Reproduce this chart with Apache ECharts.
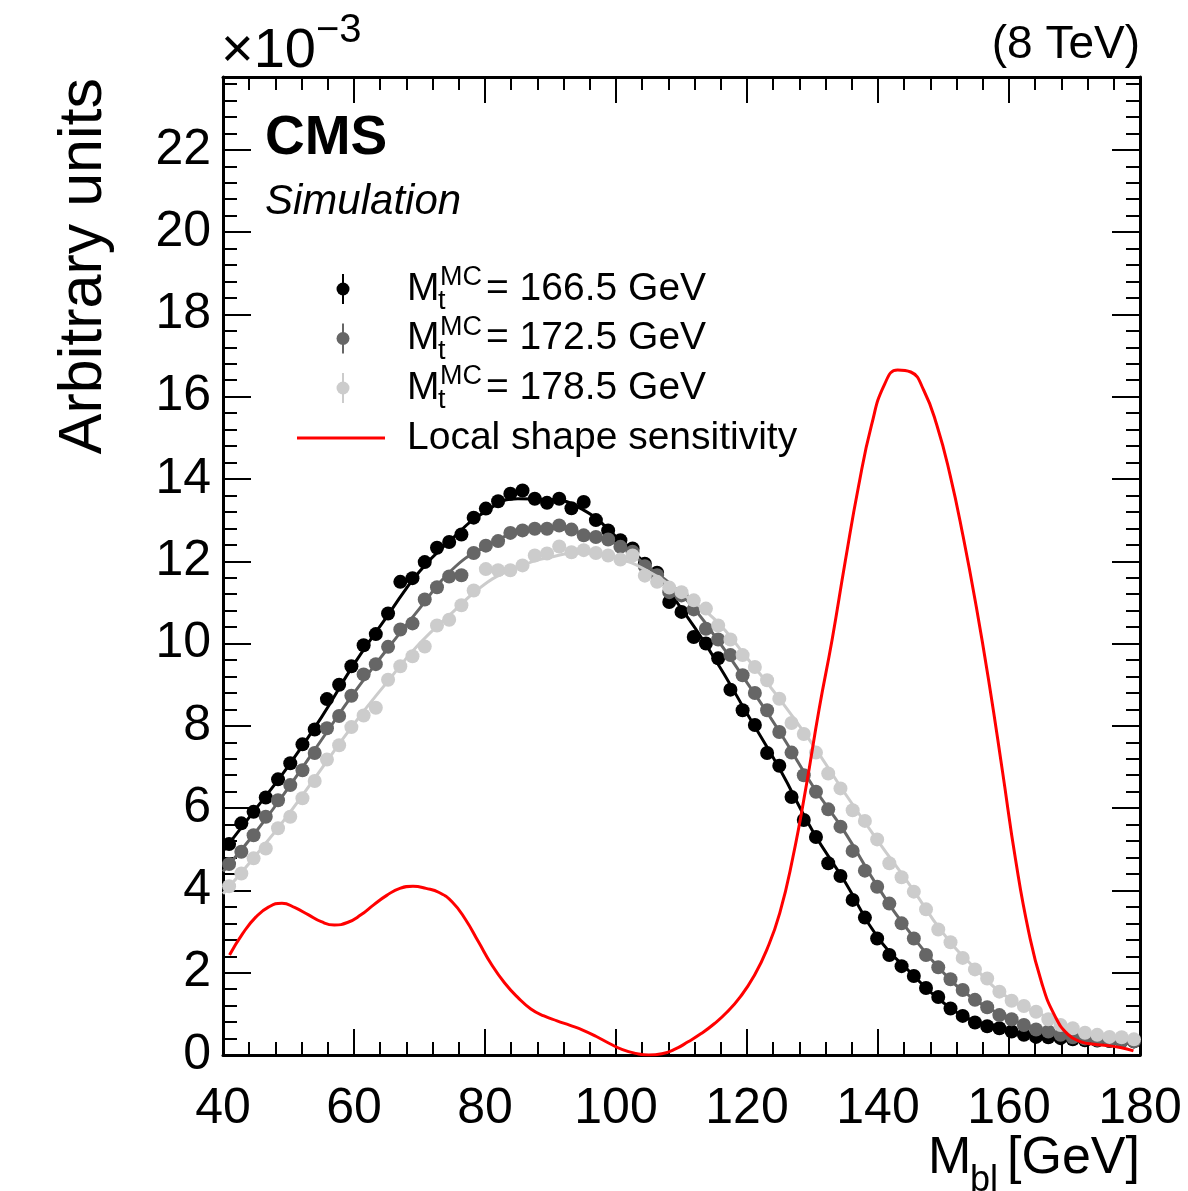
<!DOCTYPE html>
<html>
<head>
<meta charset="utf-8">
<title>Mbl shapes</title>
<style>body{margin:0;background:#fff;}</style>
</head>
<body>
<div id="main" style="width:1188px;height:1191px;"></div>
<script src="https://cdn.jsdelivr.net/npm/echarts@6/dist/echarts.min.js"></script>
<script>
// bin centres, 75 bins from 40 to 180 GeV
var binCenters = [40.93, 42.80, 44.67, 46.53, 48.40, 50.27, 52.13, 54.00, 55.87, 57.73,
  59.60, 61.47, 63.33, 65.20, 67.07, 68.93, 70.80, 72.67, 74.53, 76.40,
  78.27, 80.13, 82.00, 83.87, 85.73, 87.60, 89.47, 91.33, 93.20, 95.07,
  96.93, 98.80, 100.67, 102.53, 104.40, 106.27, 108.13, 110.00, 111.87, 113.73,
  115.60, 117.47, 119.33, 121.20, 123.07, 124.93, 126.80, 128.67, 130.53, 132.40,
  134.27, 136.13, 138.00, 139.87, 141.73, 143.60, 145.47, 147.33, 149.20, 151.07,
  152.93, 154.80, 156.67, 158.53, 160.40, 162.27, 164.13, 166.00, 167.87, 169.73,
  171.60, 173.47, 175.33, 177.20, 179.07];

// simulated points (x10^-3)
var pts1665 = [5.13, 5.63, 5.91, 6.26, 6.70, 7.09, 7.55, 7.91, 8.65, 9.00,
  9.45, 9.96, 10.23, 10.73, 11.50, 11.59, 11.98, 12.33, 12.47, 12.65,
  13.06, 13.28, 13.46, 13.64, 13.72, 13.52, 13.42, 13.52, 13.29, 13.44,
  13.00, 12.75, 12.51, 12.31, 11.94, 11.72, 11.01, 10.77, 10.16, 10.00,
  9.64, 8.88, 8.38, 8.02, 7.34, 7.03, 6.27, 5.71, 5.30, 4.66,
  4.35, 3.77, 3.34, 2.83, 2.43, 2.16, 1.92, 1.63, 1.41, 1.13,
  0.95, 0.79, 0.70, 0.65, 0.57, 0.49, 0.44, 0.43, 0.41, 0.38,
  0.36, 0.35, 0.34, 0.34, 0.33];
var pts1725 = [4.64, 4.94, 5.34, 5.79, 6.19, 6.56, 6.92, 7.34, 7.94, 8.24,
  8.73, 9.25, 9.50, 9.92, 10.34, 10.49, 11.07, 11.37, 11.63, 11.66,
  12.20, 12.38, 12.49, 12.69, 12.75, 12.79, 12.79, 12.87, 12.77, 12.63,
  12.59, 12.53, 12.35, 12.23, 11.88, 11.66, 11.25, 11.17, 10.83, 10.36,
  10.10, 9.72, 9.23, 8.80, 8.38, 7.85, 7.35, 6.80, 6.40, 5.97,
  5.55, 4.96, 4.48, 4.09, 3.68, 3.20, 2.83, 2.43, 2.13, 1.84,
  1.58, 1.34, 1.16, 0.97, 0.87, 0.73, 0.62, 0.57, 0.49, 0.43,
  0.40, 0.37, 0.35, 0.34, 0.33];
var pts1785 = [4.10, 4.41, 4.78, 5.02, 5.51, 5.79, 6.24, 6.66, 7.18, 7.53,
  7.97, 8.25, 8.44, 9.12, 9.45, 9.69, 9.93, 10.44, 10.58, 10.93,
  11.29, 11.81, 11.78, 11.78, 11.90, 12.14, 12.19, 12.36, 12.22, 12.27,
  12.20, 12.14, 12.04, 12.14, 11.65, 11.50, 11.36, 11.25, 11.05, 10.85,
  10.44, 10.10, 9.72, 9.43, 9.11, 8.66, 8.07, 7.80, 7.35, 6.84,
  6.48, 5.95, 5.69, 5.24, 4.66, 4.32, 3.97, 3.54, 3.05, 2.74,
  2.36, 2.08, 1.86, 1.54, 1.32, 1.19, 1.05, 0.87, 0.73, 0.65,
  0.54, 0.49, 0.44, 0.43, 0.38];

// fitted curves, read every 5 GeV
var fitX = [40, 45, 50, 55, 60, 65, 70, 75, 80, 85, 90, 95, 100, 105, 110,
  115, 120, 125, 130, 135, 140, 145, 150, 155, 160, 165, 170, 175, 180];
var fit1665 = [4.95, 5.98, 7.03, 8.2, 9.5, 10.65, 11.75, 12.55, 13.2, 13.52, 13.5, 13.25, 12.6, 11.85, 10.85,
  9.65, 8.3, 6.95, 5.45, 4.2, 2.85, 2.0, 1.27, 0.8, 0.58, 0.45, 0.38, 0.35, 0.33];
var fit1725 = [4.46, 5.42, 6.5, 7.65, 8.8, 9.85, 10.85, 11.8, 12.35, 12.7, 12.8, 12.68, 12.42, 11.85, 11.2,
  10.2, 9.05, 7.85, 6.55, 5.4, 4.08, 2.95, 2.0, 1.32, 0.9, 0.6, 0.42, 0.35, 0.32];
var fit1785 = [3.92, 4.85, 5.85, 6.95, 8.05, 9.05, 10.0, 10.75, 11.45, 11.85, 12.1, 12.2, 12.08, 11.75, 11.22,
  10.6, 9.65, 8.65, 7.55, 6.35, 5.2, 4.1, 2.95, 2.08, 1.38, 0.98, 0.62, 0.46, 0.38];

// local shape sensitivity (red), read every 2 GeV
var sensX = [41, 43, 45, 47, 49, 51, 53, 55, 57, 59, 61, 63, 65, 67, 69, 71, 73, 75, 77, 79,
  81, 83, 85, 87, 89, 91, 93, 95, 97, 99, 101, 103, 105, 107, 109, 111, 113, 115, 117, 119,
  121, 123, 125, 127, 129, 131, 133, 135, 137, 139, 141, 143, 145, 147, 149, 151, 153, 155, 157, 159,
  161, 163, 165, 167, 169, 171, 173, 175, 177, 179];
var sensY = [2.43, 2.95, 3.35, 3.6, 3.69, 3.58, 3.41, 3.24, 3.16, 3.22, 3.4, 3.65, 3.88, 4.05, 4.1, 4.05, 3.95, 3.72, 3.3, 2.75,
  2.2, 1.75, 1.4, 1.12, 0.95, 0.83, 0.72, 0.6, 0.45, 0.28, 0.13, 0.04, 0.0, 0.03, 0.14, 0.32, 0.52, 0.76, 1.05, 1.42,
  1.9, 2.55, 3.45, 4.8, 6.5, 8.4, 10.1, 12.0, 13.8, 15.3, 16.3, 16.65, 16.6, 16.15, 15.3, 14.1, 12.6, 10.9, 9.0, 6.9,
  4.75, 3.0, 1.75, 0.95, 0.5, 0.32, 0.26, 0.23, 0.18, 0.1];

var masses = ['166.5', '172.5', '178.5'];
var colors = ['#000000', '#666666', '#cccccc'];

var FONT = '"Liberation Sans", Arial, Helvetica, sans-serif';

var myChart = echarts.init(document.getElementById('main'));

var pts = [pts1665, pts1725, pts1785];
var fits = [fit1665, fit1725, fit1785];
var series = [];
for (var k = 0; k < 3; k++) {
    series.push({
        type: 'line', name: 'fit ' + masses[k],
        data: fitX.map(function (x, i) { return [x, fits[k][i]]; }),
        smooth: true, showSymbol: false, silent: true,
        lineStyle: { color: colors[k], width: 3 },
        z: 2 + k * 2
    });
    series.push({
        type: 'scatter', name: masses[k],
        data: binCenters.map(function (x, i) { return [x, pts[k][i]]; }),
        symbol: 'circle', symbolSize: 14,
        itemStyle: { color: colors[k], opacity: 1 },
        z: 3 + k * 2
    });
}
series.push({
    type: 'line', name: 'Local shape sensitivity',
    data: sensX.map(function (x, i) { return [x, sensY[i]]; }),
    smooth: 0.5, showSymbol: false, silent: true,
    lineStyle: { color: '#ff0000', width: 3 },
    z: 10
});

function axisCommon(extra) {
    var a = {
        type: 'value',
        axisLine: { show: true, onZero: false, lineStyle: { color: '#000', width: 3 } },
        splitLine: { show: false },
        minorSplitLine: { show: false }
    };
    for (var key in extra) a[key] = extra[key];
    return a;
}

var xTickStyle = {
    axisTick: { show: true, inside: true, length: 26, lineStyle: { color: '#000', width: 2 } },
    minorTick: { show: true, splitNumber: 5, length: 13, lineStyle: { color: '#000', width: 2 } }
};
var yTickStyle = {
    axisTick: { show: true, inside: true, length: 28, lineStyle: { color: '#000', width: 2 } },
    minorTick: { show: true, splitNumber: 5, length: 14, lineStyle: { color: '#000', width: 2 } }
};

function yLabel(v) {
    var r = Math.round(v);
    if (Math.abs(v - r) < 1e-6 && r % 2 === 0) return String(r);
    return '';
}

// legend, drawn by hand (marker + error bar, sub/superscript text)
var legendEls = [];
for (var j = 0; j < 3; j++) {
    var ly = 289 + j * 49.5;
    legendEls.push({ type: 'line', shape: { x1: 343, y1: ly - 15, x2: 343, y2: ly + 15 },
        style: { stroke: colors[j], lineWidth: 2 } });
    legendEls.push({ type: 'circle', shape: { cx: 343, cy: ly, r: 6.5 }, style: { fill: colors[j] } });
    legendEls.push({ type: 'text', x: 407, y: ly, style: { text: 'M', fontSize: 39, fontFamily: FONT, fill: '#000', verticalAlign: 'middle' } });
    legendEls.push({ type: 'text', x: 438, y: ly + 13, style: { text: 't', fontSize: 27, fontFamily: FONT, fill: '#000', verticalAlign: 'middle' } });
    legendEls.push({ type: 'text', x: 440, y: ly - 11, style: { text: 'MC', fontSize: 27, fontFamily: FONT, fill: '#000', verticalAlign: 'middle' } });
    legendEls.push({ type: 'text', x: 486, y: ly, style: { text: '= ' + masses[j] + ' GeV', fontSize: 39, fontFamily: FONT, fill: '#000', verticalAlign: 'middle' } });
}
legendEls.push({ type: 'line', shape: { x1: 297, y1: 438, x2: 385, y2: 438 }, style: { stroke: '#ff0000', lineWidth: 3 } });
legendEls.push({ type: 'text', x: 407, y: 438, style: { text: 'Local shape sensitivity', fontSize: 39, fontFamily: FONT, fill: '#000', verticalAlign: 'middle' } });

myChart.setOption({
    animation: false,
    backgroundColor: '#ffffff',
    grid: { left: 223, right: 48, top: 77, bottom: 136, containLabel: false },
    xAxis: [
        axisCommon(Object.assign({
            min: 40, max: 180, interval: 20, position: 'bottom',
            axisLabel: { margin: 29, fontSize: 50, color: '#000', fontFamily: FONT }
        }, xTickStyle)),
        axisCommon(Object.assign({
            min: 40, max: 180, interval: 20, position: 'top',
            axisLabel: { show: false }
        }, xTickStyle))
    ],
    yAxis: [
        axisCommon(Object.assign({
            min: 0, max: 23.77, interval: 2, position: 'left',
            axisLabel: { margin: 12, fontSize: 50, color: '#000', fontFamily: FONT, formatter: yLabel }
        }, yTickStyle)),
        axisCommon(Object.assign({
            min: 0, max: 23.77, interval: 2, position: 'right',
            axisLabel: { show: false }
        }, yTickStyle))
    ],
    series: series,
    graphic: [
        { type: 'text', x: 221, y: 52, style: { text: '\u00d710', fontSize: 56, fontFamily: FONT, fill: '#000', verticalAlign: 'middle' } },
        { type: 'text', x: 316, y: 31, style: { text: '\u22123', fontSize: 40, fontFamily: FONT, fill: '#000', verticalAlign: 'middle' } },
        { type: 'text', x: 1140, y: 45, style: { text: '(8 TeV)', fontSize: 46, fontFamily: FONT, fill: '#000', align: 'right', verticalAlign: 'middle' } },
        { type: 'text', x: 265, y: 139, style: { text: 'CMS', fontSize: 55, fontWeight: 'bold', fontFamily: FONT, fill: '#000', verticalAlign: 'middle' } },
        { type: 'text', x: 265, y: 202, style: { text: 'Simulation', fontSize: 42, fontStyle: 'italic', fontFamily: FONT, fill: '#000', verticalAlign: 'middle' } },
        { type: 'text', x: 84, y: 78, rotation: Math.PI / 2, style: { text: 'Arbitrary units', fontSize: 61, fontFamily: FONT, fill: '#000', align: 'right', verticalAlign: 'middle' } },
        { type: 'text', x: 928, y: 1159, style: { text: 'M', fontSize: 52, fontFamily: FONT, fill: '#000', verticalAlign: 'middle' } },
        { type: 'text', x: 970, y: 1181, style: { text: 'bl', fontSize: 36, fontFamily: FONT, fill: '#000', verticalAlign: 'middle' } },
        { type: 'text', x: 1140, y: 1159, style: { text: '[GeV]', fontSize: 52, fontFamily: FONT, fill: '#000', align: 'right', verticalAlign: 'middle' } }
    ].concat(legendEls)
});
</script>
</body>
</html>
